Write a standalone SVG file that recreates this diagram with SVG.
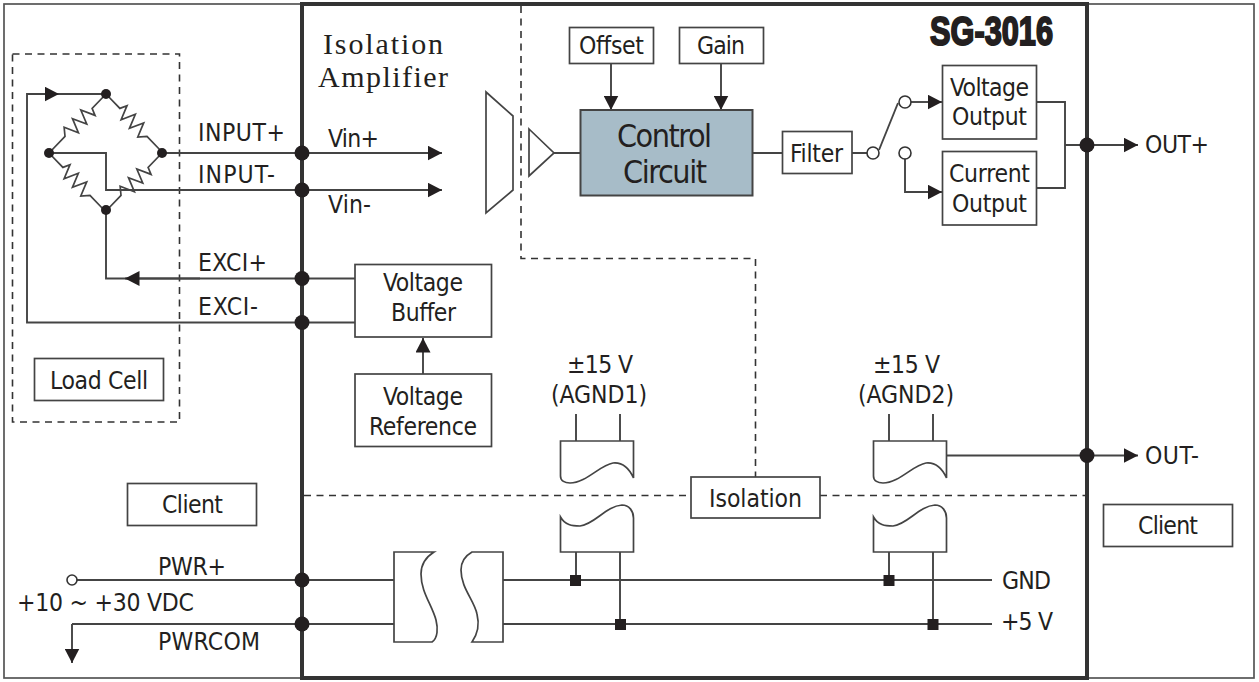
<svg xmlns="http://www.w3.org/2000/svg" xmlns:xlink="http://www.w3.org/1999/xlink" width="1259" height="682" viewBox="0 0 1259 682">
<style>
text{font-family:"DejaVu Sans","Noto Sans",sans-serif;font-stretch:condensed;font-size:24.500px;fill:#231f20}
.title{font-family:"Liberation Serif",serif;font-size:30px;font-stretch:normal}
.big{font-size:32px}
.model{font-family:"Liberation Sans Narrow","Liberation Sans",sans-serif;font-stretch:condensed;font-weight:bold;font-size:41px;stroke:#231f20;stroke-width:2px}
.box{fill:#fff;stroke:#444;stroke-width:1.7}
.wire{fill:none;stroke:#444;stroke-width:1.9}
.dash{fill:none;stroke:#333;stroke-width:1.6;stroke-dasharray:7 5.5}
.dot{fill:#231f20}
.open{fill:#fff;stroke:#333;stroke-width:1.6}
.shape{fill:#fff;stroke:#444;stroke-width:1.7;stroke-linejoin:miter}
</style>
<defs>
<marker id="arrow" markerUnits="userSpaceOnUse" markerWidth="15" markerHeight="15" refX="14.500" refY="7.500" orient="auto"><path d="M0 0L14.500 7.500L0 15Z" fill="#231f20"/></marker>
<path id="res" d="M0 0H20L23 -7L29 7L35 -7L41 7L47 -7L53 7L59 0H82" fill="none" stroke="#444" stroke-width="1.7"/>
<path id="isoTop" d="M0.500 0H73.500V37C69 27 63 21 53 22C40 24 26 42 10 42C5 42 0.500 40 0.500 35Z"/>
<path id="isoBot" d="M0.500 -35C5 -27 12 -26 20 -26C34 -27 46 -46 62 -47C69 -47 73.500 -41 73.500 -34V0H0.500Z"/>
</defs>
<rect id="client-frame" x="4" y="4" width="1250" height="674" fill="#fff" stroke="#555" stroke-width="1.7"/>
<rect id="module-frame" x="302" y="4" width="785" height="674" fill="#fff" stroke="#333" stroke-width="4"/>
<g id="boundaries">
<rect class="dash" x="12.500" y="54" width="167" height="368"/>
<path class="dash" d="M521 6V258.500H755.500V477"/>
<path class="dash" d="M304 495.500H691M820 495.500H1085"/>
</g>
<g id="connectors">
<path class="wire" d="M302 322.500H27V94H106"/>
<path class="wire" marker-end="url(#arrow)" d="M27 94H59"/>
<path class="wire" d="M162 153H302M49 153H106V190H302"/>
<path class="wire" d="M106 210V278.500H302"/>
<path class="wire" marker-end="url(#arrow)" d="M200 278.500H125"/>
<path class="wire" marker-end="url(#arrow)" d="M302 153H442"/>
<path class="wire" marker-end="url(#arrow)" d="M302 190H442"/>
<path class="wire" d="M554 153H580M752 153H782M852 153H867"/>
<path class="wire" marker-end="url(#arrow)" d="M611 63V110"/>
<path class="wire" marker-end="url(#arrow)" d="M721 63V110"/>
<path class="wire" d="M879 150L898 103"/>
<path class="wire" marker-end="url(#arrow)" d="M911 102H942"/>
<path class="wire" marker-end="url(#arrow)" d="M905 159V192H942"/>
<path class="wire" d="M1036 102H1065V188H1036M1065 145H1087"/>
<path class="wire" marker-end="url(#arrow)" d="M1087 145H1138"/>
<path class="wire" marker-end="url(#arrow)" d="M946 455.500H1138"/>
<path class="wire" d="M302 278.500H355M302 322.500H355"/>
<path class="wire" marker-end="url(#arrow)" d="M423 374V338"/>
<path class="wire" d="M576 414V441M620 414V441M889 414V441M933 414V441"/>
<path class="wire" d="M576 552V580M620 552V624M889 552V580M933 552V624"/>
<path class="wire" d="M77 580H394M503 580H992M72 624H394M503 624H992"/>
<path class="wire" marker-end="url(#arrow)" d="M72 624V663"/>
</g>
<g id="bridge">
<use xlink:href="#res" transform="translate(106 94) rotate(134)"/>
<use xlink:href="#res" transform="translate(106 94) rotate(46)"/>
<use xlink:href="#res" transform="translate(49 153) rotate(46)"/>
<use xlink:href="#res" transform="translate(162 153) rotate(134)"/>
<circle class="dot" cx="106" cy="94" r="5"/><circle class="dot" cx="49" cy="153" r="5"/><circle class="dot" cx="162" cy="153" r="5"/><circle class="dot" cx="106" cy="210" r="5"/>
</g>
<g id="terminals">
<circle class="dot" cx="302" cy="153" r="7.500"/><circle class="dot" cx="302" cy="190" r="7.500"/><circle class="dot" cx="302" cy="278.500" r="7.500"/><circle class="dot" cx="302" cy="322.500" r="7.500"/><circle class="dot" cx="302" cy="580" r="7.500"/><circle class="dot" cx="302" cy="624" r="7.500"/><circle class="dot" cx="1087" cy="145" r="7.500"/><circle class="dot" cx="1087" cy="455.500" r="7.500"/>
<circle class="open" cx="72" cy="580" r="5"/><circle class="open" cx="873" cy="153" r="6"/><circle class="open" cx="905" cy="102" r="6"/><circle class="open" cx="905" cy="153" r="6"/>
<rect class="dot" x="570" y="575" width="11" height="11"/><rect class="dot" x="615" y="619" width="11" height="11"/><rect class="dot" x="883.500" y="575" width="11" height="11"/><rect class="dot" x="927.500" y="619" width="11" height="11"/>
</g>
<g id="labels">
<text x="198" y="141" textLength="87">INPUT+</text>
<text x="198" y="183" textLength="77">INPUT-</text>
<text x="198" y="271" textLength="69">EXCI+</text>
<text x="198" y="315" textLength="60">EXCI-</text>
<text x="328" y="147" textLength="51">Vin+</text>
<text x="328" y="213" textLength="43">Vin-</text>
<text class="title" x="323" y="54" textLength="120">Isolation</text>
<text class="title" x="318" y="87" textLength="130">Amplifier</text>
<text class="model" x="930" y="45" textLength="123" lengthAdjust="spacingAndGlyphs">SG-3016</text>
<text x="567" y="373" textLength="66">±15 V</text>
<text x="551" y="403" textLength="96">(AGND1)</text>
<text x="873" y="373" textLength="67">±15 V</text>
<text x="858" y="403" textLength="96">(AGND2)</text>
<text x="158" y="575" textLength="68">PWR+</text>
<text x="17" y="611" textLength="177">+10 ~ +30 VDC</text>
<text x="158" y="650" textLength="102">PWRCOM</text>
<text x="1145" y="153" textLength="64">OUT+</text>
<text x="1145" y="464" textLength="54">OUT-</text>
<text x="1002" y="589" textLength="49">GND</text>
<text x="1001" y="630" textLength="52">+5 V</text>
</g>
<g id="load-cell"><rect class="box" x="34.500" y="358.500" width="129" height="42"/><text x="50" y="389" textLength="98">Load Cell</text></g>
<g id="client-left"><rect class="box" x="127.500" y="483.500" width="129" height="42"/><text x="162" y="513" textLength="61">Client</text></g>
<g id="client-right"><rect class="box" x="1103.500" y="504.500" width="129" height="42"/><text x="1138" y="534" textLength="60">Client</text></g>
<g id="input-mux"><path class="shape" d="M486 92L513 116V190L486 213Z"/></g>
<g id="amp"><path class="shape" d="M529 129L554 153L529 176Z"/></g>
<g id="offset"><rect class="box" x="569.500" y="27.500" width="84" height="36"/><text x="579" y="54" textLength="65">Offset</text></g>
<g id="gain"><rect class="box" x="679.500" y="27.500" width="84" height="36"/><text x="697" y="54" textLength="48">Gain</text></g>
<g id="control-circuit"><rect x="580.500" y="110" width="172" height="85.500" fill="#a7bcc8" stroke="#444" stroke-width="2"/><text class="big" x="617" y="147" textLength="95">Control</text><text class="big" x="623" y="183" textLength="84">Circuit</text></g>
<g id="filter"><rect class="box" x="782.500" y="131.500" width="69.500" height="42"/><text x="790" y="162" textLength="53">Filter</text></g>
<g id="voltage-output"><rect class="box" x="942.500" y="65.500" width="94" height="73.500"/><text x="950" y="96" textLength="79">Voltage</text><text x="952" y="125" textLength="75">Output</text></g>
<g id="current-output"><rect class="box" x="942.500" y="151.500" width="94" height="73.500"/><text x="949" y="182" textLength="81">Current</text><text x="952" y="212" textLength="75">Output</text></g>
<g id="voltage-buffer"><rect class="box" x="355" y="264.500" width="136.500" height="72.500"/><text x="383" y="291" textLength="80">Voltage</text><text x="391" y="321" textLength="65">Buffer</text></g>
<g id="voltage-reference"><rect class="box" x="355" y="374" width="136.500" height="72.500"/><text x="383" y="405" textLength="80">Voltage</text><text x="369" y="435" textLength="108">Reference</text></g>
<g id="isolation"><rect class="box" x="691" y="477" width="129" height="41"/><text x="709" y="507" textLength="93">Isolation</text></g>
<g id="iso1-top"><use xlink:href="#isoTop" class="shape" x="560" y="441"/></g>
<g id="iso2-top"><use xlink:href="#isoTop" class="shape" x="873" y="441"/></g>
<g id="iso1-bottom"><use xlink:href="#isoBot" class="shape" x="560" y="552"/></g>
<g id="iso2-bottom"><use xlink:href="#isoBot" class="shape" x="873" y="552"/></g>
<g id="psu-primary"><path class="shape" d="M434 552H394V642H432C438 638 438 628 436 620C432 605 421 592 421 574C421 565 426 557 434 552Z"/></g>
<g id="psu-secondary"><path class="shape" d="M472 552H503V642H472C479 632 479 622 477 614C474 600 461 588 461 570C461 562 465 556 472 552Z"/></g>
</svg>
